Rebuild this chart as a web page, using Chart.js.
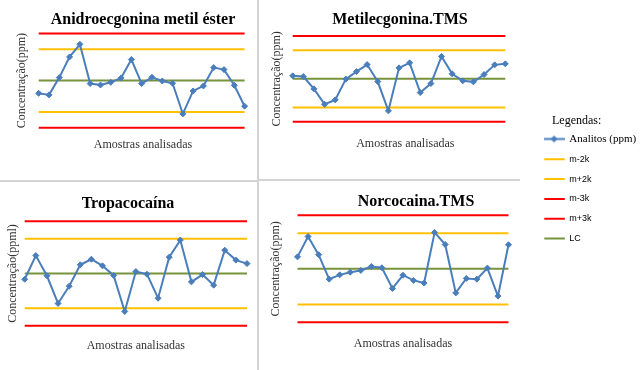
<!DOCTYPE html>
<html>
<head>
<meta charset="utf-8">
<script src="https://cdn.jsdelivr.net/npm/chart.js@4/dist/chart.umd.min.js"></script>
<style>
html,body{margin:0;padding:0;background:#fff;width:640px;height:370px;overflow:hidden;}
canvas{position:absolute;}
.rule{position:absolute;background:#d4d4d4;}
</style>
</head>
<body>
<div class="rule" style="left:257px;top:0;width:2px;height:370px"></div>
<div class="rule" style="left:0;top:180px;width:257px;height:2px"></div>
<div class="rule" style="left:259px;top:179px;width:261px;height:2px"></div>
<canvas id="p1"></canvas>
<canvas id="p2"></canvas>
<canvas id="p3"></canvas>
<canvas id="p4"></canvas>
<canvas id="legA"></canvas>
<canvas id="legB"></canvas>
<script>
// ---------- data ----------
const amostras = [1,2,3,4,5,6,7,8,9,10,11,12,13,14,15,16,17,18,19,20,21];
const anidroecgonina = [9.19,9.09,10.19,11.51,12.31,9.81,9.72,9.89,10.17,11.34,9.81,10.21,9.98,9.83,7.88,9.34,9.66,10.83,10.70,9.70,8.37];
const metilecgonina  = [10.21,10.16,9.30,8.22,8.53,9.98,10.51,11.00,9.81,7.76,10.77,11.12,9.04,9.67,11.57,10.35,9.86,9.79,10.30,10.98,11.05];
const tropacocaina   = [9.67,11.03,9.87,8.28,9.27,10.50,10.82,10.44,9.89,7.82,10.11,9.96,8.58,10.94,11.92,9.52,9.94,9.33,11.34,10.77,10.57];
const norcocaina     = [10.67,11.81,10.79,9.42,9.66,9.81,9.91,10.13,10.06,8.90,9.64,9.35,9.20,12.04,11.36,8.65,9.46,9.42,10.04,8.47,11.35];
const serieNome = 'Analitos (ppm)';
const limiteNomes = ['m-2k','m+2k','m-3k','m+3k','LC'];
const limiteValores = [8, 12, 7, 13, 10];
const titulos = ['Anidroecgonina metil éster','Metilecgonina.TMS','Tropacocaína','Norcocaina.TMS'];
const titulosY = ['Concentração(ppm)','Concentração(ppm)','Concentração(ppml)','Concentração(ppm)'];
const tituloX = 'Amostras analisadas';
const tituloLegenda = 'Legendas:';

// ---------- styles ----------
const estilo = {
  serie: '#4A7EBB',
  limites: ['#FFC000','#FFC000','#FF0000','#FF0000','#77933C'],
  serif: "'Liberation Serif','Times New Roman',serif",
  sans: "'Liberation Sans',Arial,sans-serif"
};

// panel geometry (page pixels)
const geo = [
  {x0:0,   y0:0,   h:180, dataL:38.7,  dataR:244.6, areaT:33.5,  areaB:127.7, titleX:143, titleY:20,    yTitleX:22,    xTitleX:143,   xTitleY:145},
  {x0:258, y0:0,   h:180, dataL:292.7, dataR:505.3, areaT:36,    areaB:121.7, titleX:400, titleY:20,    yTitleX:276.7, xTitleX:405.3, xTitleY:144},
  {x0:0,   y0:180, h:190, dataL:24.7,  dataR:247,   areaT:221.3, areaB:325.7, titleX:128, titleY:204,   yTitleX:13,    xTitleX:133,   xTitleY:345.7},
  {x0:258, y0:180, h:190, dataL:297.5, dataR:508.5, areaT:215.3, areaB:322.3, titleX:416, titleY:201.7, yTitleX:275.7, xTitleX:400.7, xTitleY:344.3}
];

function construirDatasets(valores) {
  const ds = [{
    label: serieNome,
    data: valores.map((v, i) => ({x: amostras[i], y: v})),
    borderColor: estilo.serie, backgroundColor: estilo.serie,
    borderWidth: 2, tension: 0, clip: false,
    pointStyle: 'rectRot', pointRadius: 3, pointBorderWidth: 1,
    pointBackgroundColor: estilo.serie, pointBorderColor: estilo.serie
  }];
  limiteNomes.forEach((nome, j) => ds.push({
    label: nome,
    data: amostras.map(a => ({x: a, y: limiteValores[j]})),
    borderColor: estilo.limites[j], backgroundColor: estilo.limites[j],
    borderWidth: 2, pointRadius: 0, tension: 0, clip: false
  }));
  return ds;
}

function painel(id, g, titulo, tituloY, valores) {
  const padL = g.yTitleX - g.x0 - 4 - 7.2;
  const L = g.dataL - g.x0, Rd = g.dataR - g.x0;
  const R = Math.max(Rd, 2 * (g.xTitleX - g.x0) - L);
  const passo = (Rd - L) / (amostras.length - 1);
  const xMin = amostras[0];
  const xMax = amostras[0] + (R - L) / passo;
  const boxR = 2 * (g.titleX - g.x0) - padL;
  const right = Math.max(boxR, R);
  const cw = Math.ceil(right) + 2;
  const padR = cw - right;
  const rightW = Math.max(0, boxR - R);
  const yW = L - padL;
  const aT = g.areaT - g.y0, aB = g.areaB - g.y0, tY = g.titleY - g.y0;
  const tPadTop = tY - 9.6, tPadBot = aT - tPadTop - 19.2;
  const xPadTop = g.xTitleY - g.y0 - aB - 7.2;
  const padB = g.h - aB - 14.4 - xPadTop;
  const cv = document.getElementById(id);
  cv.width = cw; cv.height = g.h;
  cv.style.left = g.x0 + 'px'; cv.style.top = g.y0 + 'px';
  cv.style.width = cw + 'px'; cv.style.height = g.h + 'px';
  const hidden = {display: false, drawTicks: false};
  new Chart(cv, {
    type: 'line',
    data: {datasets: construirDatasets(valores)},
    options: {
      responsive: false, animation: false, devicePixelRatio: 1,
      layout: {autoPadding: false, padding: {left: padL, right: padR, top: 0, bottom: padB}},
      plugins: {
        legend: {display: false},
        tooltip: {enabled: false},
        title: {display: true, text: titulo, fullSize: true, color: '#000',
          font: {family: estilo.serif, size: 16, weight: 'bold', lineHeight: 1.2},
          padding: {top: tPadTop, bottom: tPadBot}}
      },
      scales: {
        x: {type: 'linear', min: xMin, max: xMax, grid: hidden, border: {display: false},
            ticks: {display: false},
            title: {display: true, text: tituloX, color: '#333',
              font: {family: estilo.serif, size: 12, lineHeight: 1.2},
              padding: {top: xPadTop, bottom: 0}}},
        y: {type: 'linear', position: 'left', min: limiteValores[2], max: limiteValores[3],
            grid: hidden, border: {display: false}, ticks: {display: false},
            title: {display: true, text: tituloY, color: '#333',
              font: {family: estilo.serif, size: 12, lineHeight: 1.2},
              padding: {top: 4, bottom: 0}},
            afterFit: s => { s.width = yW; }},
        yR: {type: 'linear', position: 'right', grid: hidden, border: {display: false},
            ticks: {display: false}, afterFit: s => { s.width = rightW; }}
      }
    }
  });
}

painel('p1', geo[0], titulos[0], titulosY[0], anidroecgonina);
painel('p2', geo[1], titulos[1], titulosY[1], metilecgonina);
painel('p3', geo[2], titulos[2], titulosY[2], tropacocaina);
painel('p4', geo[3], titulos[3], titulosY[3], norcocaina);

// ---------- legend ----------
function simboloSerie() {
  const c = document.createElement('canvas');
  c.width = 21; c.height = 9;
  const x = c.getContext('2d');
  x.strokeStyle = estilo.serie; x.lineWidth = 2;
  x.beginPath(); x.moveTo(0, 4.5); x.lineTo(21, 4.5); x.stroke();
  x.fillStyle = estilo.serie;
  x.beginPath(); x.moveTo(10.5, 1); x.lineTo(14, 4.5); x.lineTo(10.5, 8); x.lineTo(7, 4.5); x.closePath(); x.fill();
  return c;
}

function legenda(id, left, top, w, h, datasets, opts) {
  const cv = document.getElementById(id);
  cv.width = w; cv.height = h;
  cv.style.left = left + 'px'; cv.style.top = top + 'px';
  cv.style.width = w + 'px'; cv.style.height = h + 'px';
  new Chart(cv, {
    type: 'line',
    data: {labels: [], datasets: datasets},
    options: {
      responsive: false, animation: false, devicePixelRatio: 1,
      layout: {autoPadding: false, padding: opts.padding},
      scales: {x: {display: false}, y: {display: false}},
      plugins: {
        tooltip: {enabled: false},
        title: opts.title,
        legend: {
          display: true, position: 'left', align: 'start', fullSize: false, maxWidth: 200,
          labels: {
            usePointStyle: true, pointStyleWidth: opts.boxW, padding: opts.gap,
            color: '#000', font: opts.font,
            generateLabels: chart => chart.data.datasets.map((d, i) => ({
              text: d.label, fillStyle: d.borderColor, strokeStyle: d.borderColor,
              lineWidth: 2, pointStyle: d.legendStyle, hidden: false, datasetIndex: i,
              fontColor: '#000'
            }))
          }
        }
      }
    }
  });
}

const todos = construirDatasets(anidroecgonina);
const dsSerie = [Object.assign({}, todos[0], {data: [], legendStyle: simboloSerie()})];
const dsLimites = todos.slice(1).map(d => Object.assign({}, d, {data: [], legendStyle: 'line'}));

// legend A: title "Legendas:" (chart title, centred at x=576.7 page) + series item
legenda('legA', 520, 100, 120, 50, dsSerie, {
  padding: {left: 19.9, top: 0, right: 26.5, bottom: 0}, boxW: 19.5, gap: 4.4,
  font: {family: estilo.serif, size: 11},
  title: {display: true, text: tituloLegenda, fullSize: true, color: '#000',
    font: {family: estilo.serif, size: 12, weight: 'normal', lineHeight: 1.2},
    padding: {top: 13.5, bottom: 1.2}}
});
legenda('legB', 520, 140, 120, 130, dsLimites, {
  padding: {left: 13.5, top: 4, right: 0, bottom: 0}, boxW: 20.5, gap: 10.8,
  font: {family: estilo.sans, size: 9},
  title: {display: false}
});
</script>
</body>
</html>
